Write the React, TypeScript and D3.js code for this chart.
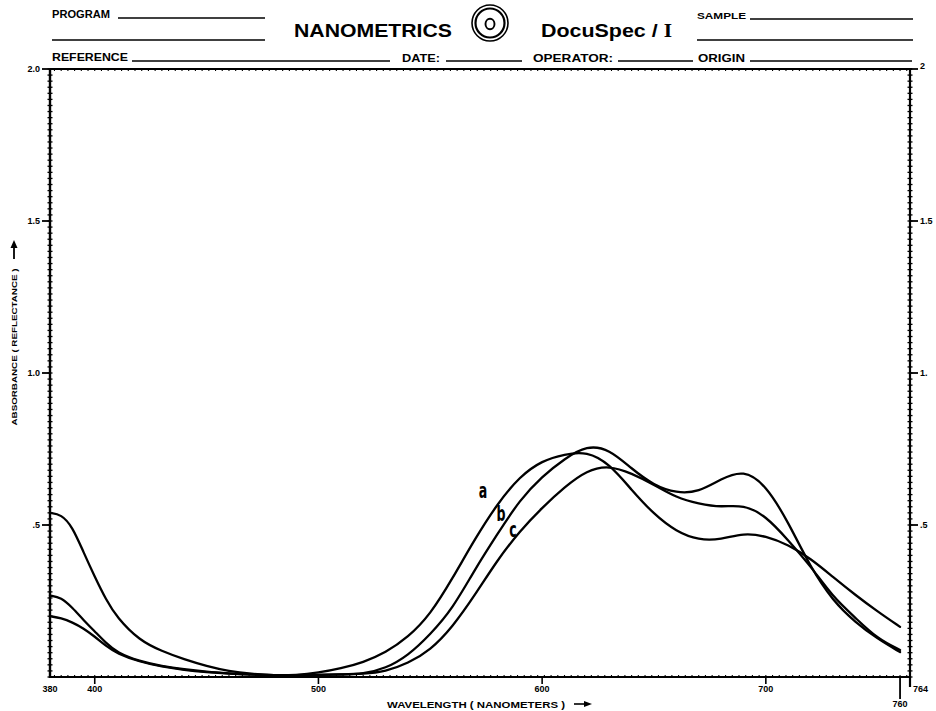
import React from "react";
import * as d3 from "d3";

const WAVELENGTHS = [380, 385, 390, 395, 400, 405, 410, 420, 430, 440, 450, 460, 470, 480, 490, 500, 510, 520, 530, 540, 550, 560, 570, 580, 590, 600, 610, 620, 630, 640, 650, 660, 670, 680, 690, 700, 710, 720, 730, 740, 750, 760];

const CURVE_A = [0.54, 0.535, 0.495, 0.41, 0.33, 0.255, 0.195, 0.12, 0.085, 0.058, 0.036, 0.019, 0.01, 0.005, 0.006, 0.014, 0.028, 0.048, 0.08, 0.13, 0.205, 0.325, 0.455, 0.57, 0.66, 0.712, 0.733, 0.742, 0.702, 0.615, 0.535, 0.478, 0.45, 0.452, 0.474, 0.464, 0.435, 0.39, 0.329, 0.27, 0.215, 0.165];
const CURVE_B = [0.268, 0.262, 0.228, 0.187, 0.15, 0.112, 0.08, 0.052, 0.036, 0.025, 0.017, 0.012, 0.008, 0.006, 0.006, 0.007, 0.009, 0.01, 0.028, 0.07, 0.14, 0.225, 0.355, 0.47, 0.583, 0.66, 0.718, 0.762, 0.75, 0.685, 0.63, 0.605, 0.608, 0.652, 0.682, 0.632, 0.51, 0.36, 0.25, 0.18, 0.125, 0.082];
const CURVE_C = [0.2, 0.194, 0.18, 0.16, 0.133, 0.102, 0.077, 0.05, 0.034, 0.023, 0.016, 0.011, 0.008, 0.006, 0.006, 0.007, 0.008, 0.01, 0.018, 0.045, 0.088, 0.165, 0.27, 0.385, 0.48, 0.557, 0.625, 0.68, 0.696, 0.67, 0.633, 0.59, 0.57, 0.558, 0.568, 0.53, 0.45, 0.365, 0.263, 0.195, 0.125, 0.089];

const CURVE_NAMES = ["a", "b", "c"];
const CURVE_LABEL_PX = [[483, 498], [501, 521], [513, 537]];

const X_TICKS = [400, 500, 600, 700];
const Y_TICKS = [0.5, 1.0, 1.5, 2.0];
const Y_LABELS_LEFT = [".5", "1.0", "1.5", "2.0"];
const Y_LABELS_RIGHT = [".5", "1.", "1.5", "2"];

const FONT = "'Liberation Sans', Arial, sans-serif";

export default function App() {
  const W = 936, H = 711;
  const x = d3.scaleLinear().domain([380, 764]).range([50, 909]);
  const y = d3.scaleLinear().domain([0, 2]).range([677, 69]);
  const series = [CURVE_A, CURVE_B, CURVE_C];
  const line = d3
    .line<number>()
    .x((_, i) => x(WAVELENGTHS[i]))
    .y((d) => y(d))
    .curve(d3.curveBasis);

  const minorY = d3.range(0, 2.0001, 0.02);
  const minorX = d3.range(382, 764, 3);

  const hdr = (t: string, x0: number, yy: number, len: number, fs: number) => (
    <text x={x0} y={yy} fontSize={fs} textLength={len} lengthAdjust="spacingAndGlyphs">{t}</text>
  );

  return (
    <svg width={W} height={H} style={{ position: "absolute", left: 0, top: 0, background: "#fff" }} fontFamily={FONT}>
      <rect width={W} height={H} fill="#fff" />
      {/* header */}
      <g fontWeight="bold" fill="#000">
        {hdr("PROGRAM", 52, 18, 58, 10)}
        <line x1={118} x2={265} y1={18} y2={18} stroke="#000" strokeWidth={1.6} />
        <line x1={52} x2={265} y1={40} y2={40} stroke="#000" strokeWidth={1.6} />
        {hdr("NANOMETRICS", 294, 37, 158, 19)}
        <circle cx={490} cy={23} r={18} fill="none" stroke="#000" strokeWidth={1.6} />
        <circle cx={490} cy={23} r={14.5} fill="none" stroke="#000" strokeWidth={2.2} />
        <ellipse cx={490} cy={24} rx={4.5} ry={5.2} fill="none" stroke="#000" strokeWidth={1.9} />
        <text x={541} y={37} fontSize={19} textLength={131} lengthAdjust="spacingAndGlyphs">DocuSpec / <tspan fontFamily="'Liberation Serif', serif">I</tspan></text>
        {hdr("SAMPLE", 697, 19, 49, 9.5)}
        <line x1={750} x2={913} y1={19} y2={19} stroke="#000" strokeWidth={1.6} />
        <line x1={697} x2={913} y1={40} y2={40} stroke="#000" strokeWidth={1.6} />
        {hdr("REFERENCE", 52, 61, 76, 10)}
        <line x1={132} x2={390} y1={61} y2={61} stroke="#000" strokeWidth={1.6} />
        {hdr("DATE:", 402, 62, 38, 10)}
        <line x1={446} x2={522} y1={61} y2={61} stroke="#000" strokeWidth={1.6} />
        {hdr("OPERATOR:", 533, 62, 80, 10)}
        <line x1={618} x2={693} y1={61} y2={61} stroke="#000" strokeWidth={1.6} />
        {hdr("ORIGIN", 698, 62, 47, 10)}
        <line x1={750} x2={912} y1={61} y2={61} stroke="#000" strokeWidth={1.6} />
      </g>

      {/* frame */}
      <g stroke="#000" fill="none">
        <line x1={50} x2={912} y1={y(2)} y2={y(2)} strokeWidth={2} />
        <line x1={50} x2={50} y1={y(2)} y2={y(0) + 1} strokeWidth={2.4} />
        <line x1={910} x2={910} y1={y(2)} y2={y(0) + 10} strokeWidth={2.2} />
        <line x1={49} x2={911} y1={y(0)} y2={y(0)} strokeWidth={2.2} />
        {minorY.map((v, i) => (
          <g key={"my" + i}>
            <line x1={47.5} x2={52.5} y1={y(v)} y2={y(v)} strokeWidth={1.3} />
            <line x1={907.5} x2={912.5} y1={y(v)} y2={y(v)} strokeWidth={1.3} />
          </g>
        ))}
        {minorX.map((v, i) => (
          <g key={"mx" + i}>
            <line x1={x(v)} x2={x(v)} y1={y(0) - 2} y2={y(0) + 1} strokeWidth={1.1} />
            <line x1={x(v)} x2={x(v)} y1={y(2) - 1} y2={y(2) + 2} strokeWidth={1.1} />
          </g>
        ))}
        {Y_TICKS.map((v) => (
          <g key={"yt" + v}>
            <line x1={42} x2={50} y1={y(v)} y2={y(v)} strokeWidth={1.8} />
            <line x1={910} x2={918} y1={y(v)} y2={y(v)} strokeWidth={1.8} />
          </g>
        ))}
        {X_TICKS.map((v) => (
          <line key={"xt" + v} x1={x(v)} x2={x(v)} y1={y(0)} y2={y(0) + 7} strokeWidth={1.6} />
        ))}
        <line x1={x(760)} x2={x(760)} y1={y(0)} y2={y(0) + 22} strokeWidth={1.8} />
      </g>

      {/* axis labels */}
      <g fontWeight="bold" fill="#000" fontSize={9}>
        {Y_TICKS.map((v, i) => (
          <text key={"yl" + v} x={40} y={y(v) + 3} textAnchor="end">{Y_LABELS_LEFT[i]}</text>
        ))}
        {Y_TICKS.map((v, i) => (
          <text key={"yr" + v} x={920} y={y(v) + (v === 2 ? 0 : 3)}>{Y_LABELS_RIGHT[i]}</text>
        ))}
        <text x={x(380)} y={692} textAnchor="middle">380</text>
        {X_TICKS.map((v) => (
          <text key={"xl" + v} x={x(v)} y={692} textAnchor="middle">{v}</text>
        ))}
        <text x={913} y={692} textAnchor="start">764</text>
        <text x={x(760)} y={707} textAnchor="middle">760</text>
        <text x={387} y={708} fontSize={9} textLength={178} lengthAdjust="spacingAndGlyphs">WAVELENGTH ( NANOMETERS )</text>
        <line x1={574} x2={586} y1={704} y2={704} stroke="#000" strokeWidth={1.6} />
        <path d="M584,701 L592,704 L584,707 Z" fill="#000" />
        <text transform="translate(17,347) rotate(-90)" textAnchor="middle" fontSize={8} textLength={157} lengthAdjust="spacingAndGlyphs">ABSORBANCE ( REFLECTANCE )</text>
        <line x1={14} x2={14} y1={259} y2={246} stroke="#000" strokeWidth={1.8} />
        <path d="M10.5,248 L14,240 L17.5,248 Z" fill="#000" />
      </g>

      {/* curves */}
      <g fill="none" stroke="#000" strokeWidth={2.3} strokeLinejoin="round" strokeLinecap="round">
        {series.map((s, i) => (
          <path key={"c" + i} d={line(s) || ""} />
        ))}
      </g>
      <g fontWeight="bold" fill="#000" fontSize={21} fontFamily="'DejaVu Sans', sans-serif">
        {CURVE_NAMES.map((n, i) => (
          <text key={"n" + n} x={0} y={0} textAnchor="middle" transform={`translate(${CURVE_LABEL_PX[i][0]},${CURVE_LABEL_PX[i][1]}) scale(0.6,1.05)`}>{n}</text>
        ))}
      </g>
    </svg>
  );
}
